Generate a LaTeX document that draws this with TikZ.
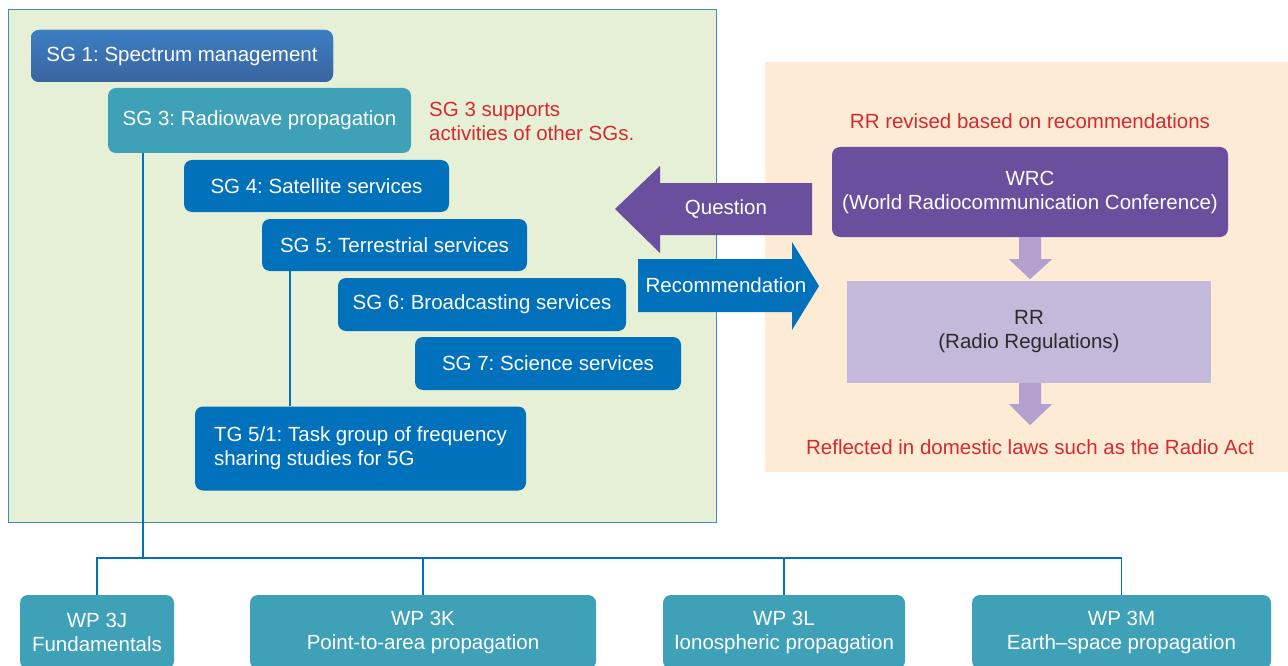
\documentclass[tikz,border=0pt]{standalone}
\usepackage{fontspec}
\setmainfont{Liberation Sans}
\usetikzlibrary{calc}
\definecolor{greenbg}{HTML}{E6F0D6}
\definecolor{orangebg}{HTML}{FDEBD6}
\definecolor{panelline}{HTML}{3D8CC4}
\definecolor{sgblue}{HTML}{0071BA}
\definecolor{sgteal}{HTML}{3FA1B7}
\definecolor{sgtop}{HTML}{3C7EC3}
\definecolor{sgbot}{HTML}{3A64A0}
\definecolor{wrcpurple}{HTML}{6A4F9E}
\definecolor{rrlilac}{HTML}{C4B9DA}
\definecolor{arrowlilac}{HTML}{B3A0CE}
\definecolor{redtext}{HTML}{D52A30}
\definecolor{darktext}{HTML}{2B2B2B}
\frenchspacing
\begin{document}
\frenchspacing
\begin{tikzpicture}[x=1pt,y=-1pt,
  txt/.style={font=\fontsize{20.5}{24}\selectfont\frenchspacing},
  sgbox/.style={txt,rounded corners=8pt,text=white,inner sep=0pt,align=center,fill=sgblue},
  tealbox/.style={sgbox,fill=sgteal},
  redlabel/.style={txt,text=redtext,inner sep=0pt},
  conn/.style={draw=sgblue,line width=1.6pt}]
\clip (0,0) rectangle (1288,666);
\fill[white] (0,0) rectangle (1288,666);
% panels
\fill[greenbg] (8,10) rectangle (716,522);
\draw[panelline,line width=1pt] (8,10) rectangle (716,522);
\fill[orangebg] (765,62) rectangle (1290,472);
% study groups
\node[sgbox,top color=sgtop,bottom color=sgbot,minimum width=302pt,minimum height=52pt] (sg1) at (182,56) {SG 1: Spectrum management};
\node[tealbox,minimum width=303pt,minimum height=65pt] (sg3) at (259.5,120.5) {SG 3: Radiowave propagation};
\node[sgbox,minimum width=265pt,minimum height=52pt] (sg4) at (316.5,186) {SG 4: Satellite services};
\node[sgbox,minimum width=265pt,minimum height=52pt] (sg5) at (394.5,245) {SG 5: Terrestrial services};
\node[sgbox,minimum width=288pt,minimum height=53pt] (sg6) at (482,304.5) {SG 6: Broadcasting services};
\node[sgbox,minimum width=266pt,minimum height=53pt] (sg7) at (548,363.5) {SG 7: Science services};
\node[sgbox,minimum width=331pt,minimum height=84pt,align=left] (tg) at (360.5,448.5) {TG 5/1: Task group of frequency\\sharing studies for 5G};
\node[redlabel,anchor=west,align=left] (sg3note) at (429,121) {SG 3 supports\\activities of other SGs.};
% working parties
\node[tealbox,minimum width=154pt,minimum height=74pt] (wpj) at (97,632) {WP 3J\\Fundamentals};
\node[tealbox,minimum width=346pt,minimum height=74pt] (wpk) at (423,632) {WP 3K\\Point-to-area propagation};
\node[tealbox,minimum width=242pt,minimum height=74pt] (wpl) at (784,632) {WP 3L\\Ionospheric propagation};
\node[tealbox,minimum width=299pt,minimum height=74pt] (wpm) at (1121.5,632) {WP 3M\\Earth\textendash space propagation};
% tree connectors
\coordinate (bus) at (143,558);
\coordinate (tgx) at (290,0);
\draw[conn] (sg3.south -| bus) -- (bus);
\draw[conn] (sg5.south -| tgx) -- (tg.north -| tgx);
\draw[conn] (wpj.north) |- (wpm.north |- bus) -- (wpm.north);
\draw[conn] (wpk.north) -- (wpk.north |- bus);
\draw[conn] (wpl.north) -- (wpl.north |- bus);
% right side
\node[redlabel] (revised) at (1030,121) {RR revised based on recommendations};
\node[sgbox,fill=wrcpurple,minimum width=396pt,minimum height=90pt] (wrc) at (1030,192) {WRC\\(World Radiocommunication Conference)};
\node[txt,fill=rrlilac,text=darktext,align=center,inner sep=0pt,minimum width=364pt,minimum height=102pt] (rr) at (1029,332) {RR\\(Radio Regulations)};
\node[redlabel] (reflected) at (1030,447) {Reflected in domestic laws such as the Radio Act};
\fill[arrowlilac] ([xshift=-11pt]wrc.south) -- ++(22,0) -- ++(0,22) -- ++(11,0) -- ++(-22,20) -- ++(-21,-20) -- ++(10,0) -- cycle;
\fill[arrowlilac] ([xshift=-10pt]rr.south) -- ++(22,0) -- ++(0,21) -- ++(11,0) -- ++(-22,21) -- ++(-21,-21) -- ++(10,0) -- cycle;
% block arrows
\fill[wrcpurple] (812,183) -- (660,183) -- (660,166) -- (615,209) -- (660,253) -- (660,235) -- (812,235) -- cycle;
\fill[sgblue] (638,259) -- (792,259) -- (792,242) -- (819,286) -- (792,330) -- (792,312) -- (638,312) -- cycle;
\node[txt,text=white,inner sep=0pt] (question) at (726,209.5) {Question};
\node[txt,text=white,inner sep=0pt] (recommendation) at (726,285) {Recommendation};
\end{tikzpicture}
\end{document}
